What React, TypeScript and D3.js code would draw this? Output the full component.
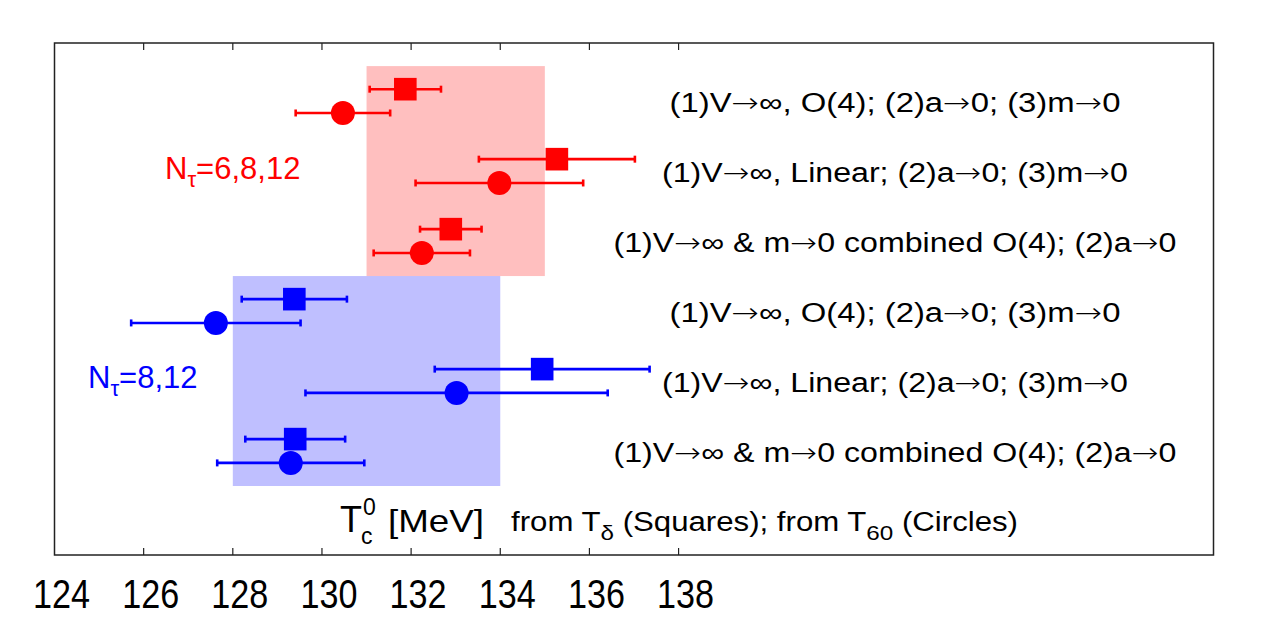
import * as d3 from 'd3';
import React, { useEffect, useRef } from 'react';

// T_c^0 estimates per extrapolation scheme, rows top to bottom
const rowLabels = [
  '(1)V→∞, O(4); (2)a→0; (3)m→0',
  '(1)V→∞, Linear; (2)a→0; (3)m→0',
  '(1)V→∞ & m→0 combined O(4); (2)a→0',
  '(1)V→∞, O(4); (2)a→0; (3)m→0',
  '(1)V→∞, Linear; (2)a→0; (3)m→0',
  '(1)V→∞ & m→0 combined O(4); (2)a→0',
];
const rowGroup = [0, 0, 0, 1, 1, 1];

// from T_delta (squares)
const squareValues = [131.87, 135.27, 132.89, 129.38, 134.94, 129.4];
const squareErrors = [0.8, 1.75, 0.69, 1.18, 2.41, 1.12];
// from T_60 (circles)
const circleValues = [130.47, 133.98, 132.24, 127.62, 133.02, 129.3];
const circleErrors = [1.06, 1.88, 1.08, 1.9, 3.39, 1.65];

const groupNames = ['6,8,12', '8,12'];
const groupColors = ['#ff0000', '#0000ff'];
const bandLow = [131, 128];
const bandHigh = [135, 134];
const bandRows = [
  [-0.5, 2.5],
  [2.5, 5.5],
];

const tickValues = [124, 126, 128, 130, 132, 134, 136, 138];

const width = 1275;
const height = 630;
const frame = { left: 54.5, right: 1213.5, top: 43, bottom: 555 };
const font = "'Liberation Sans', Arial, Helvetica, sans-serif";
// rendered widths of the row descriptions (the original font runs wide)
const labelWidth: Record<string, number> = {
  '(1)V→∞, O(4); (2)a→0; (3)m→0': 451,
  '(1)V→∞, Linear; (2)a→0; (3)m→0': 466,
  '(1)V→∞ & m→0 combined O(4); (2)a→0': 563,
};

const App: React.FC = () => {
  const ref = useRef<SVGSVGElement>(null);

  useEffect(() => {
    if (!ref.current) {
      return;
    }
    const svg = d3.select(ref.current);
    svg.selectAll('*').remove();

    const x = d3.scaleLinear().domain([124, 150]).range([frame.left, frame.right]);
    const y = d3.scaleLinear().domain([-0.83, 6.486]).range([frame.top, frame.bottom]);

    // shaded bands
    svg
      .append('g')
      .selectAll('rect')
      .data(groupNames.map((_, g) => g))
      .join('rect')
      .attr('x', (g) => x(bandLow[g]))
      .attr('width', (g) => x(bandHigh[g]) - x(bandLow[g]))
      .attr('y', (g) => y(bandRows[g][0]))
      .attr('height', (g) => y(bandRows[g][1]) - y(bandRows[g][0]))
      .style('fill', (g) => groupColors[g])
      .style('fill-opacity', 0.25);

    // frame + ticks
    svg
      .append('rect')
      .attr('x', frame.left)
      .attr('y', frame.top)
      .attr('width', frame.right - frame.left)
      .attr('height', frame.bottom - frame.top)
      .style('fill', 'none')
      .style('stroke', '#222')
      .style('stroke-width', 1.5);

    const ticks = svg.append('g');
    tickValues.slice(1).forEach((t) => {
      ticks
        .append('line')
        .attr('x1', x(t))
        .attr('x2', x(t))
        .attr('y1', frame.bottom)
        .attr('y2', frame.bottom - 7)
        .style('stroke', '#222')
        .style('stroke-width', 1.2);
      ticks
        .append('line')
        .attr('x1', x(t))
        .attr('x2', x(t))
        .attr('y1', frame.top)
        .attr('y2', frame.top + 7)
        .style('stroke', '#222')
        .style('stroke-width', 1.2);
    });
    svg
      .append('g')
      .selectAll('text')
      .data(tickValues)
      .join('text')
      .attr('x', (d) => x(d) + 7)
      .attr('y', 608)
      .attr('text-anchor', 'middle')
      .attr('textLength', 57)
      .attr('lengthAdjust', 'spacingAndGlyphs')
      .style('font-family', font)
      .style('font-size', '40px')
      .text((d) => d);

    // error bars with markers
    const drawSeries = (values: number[], errors: number[], offset: number, shape: 'square' | 'circle') => {
      const g = svg.append('g');
      values.forEach((v, i) => {
        const color = groupColors[rowGroup[i]];
        const cy = y(i + offset);
        const lo = x(v - errors[i]);
        const hi = x(v + errors[i]);
        g.append('line')
          .attr('x1', lo)
          .attr('x2', hi)
          .attr('y1', cy)
          .attr('y2', cy)
          .style('stroke', color)
          .style('stroke-width', 2.6);
        [lo, hi].forEach((cx) => {
          g.append('line')
            .attr('x1', cx)
            .attr('x2', cx)
            .attr('y1', cy - 3.5)
            .attr('y2', cy + 3.5)
            .style('stroke', color)
            .style('stroke-width', 2.6);
        });
        if (shape === 'square') {
          g.append('rect')
            .attr('x', x(v) - 11.3)
            .attr('y', cy - 11.3)
            .attr('width', 22.6)
            .attr('height', 22.6)
            .style('fill', color);
        } else {
          g.append('circle').attr('cx', x(v)).attr('cy', cy).attr('r', 12).style('fill', color);
        }
      });
    };
    drawSeries(squareValues, squareErrors, -0.17, 'square');
    drawSeries(circleValues, circleErrors, 0.17, 'circle');

    // row descriptions; arrows and infinity taken from DejaVu for the long symbol glyphs
    const rows = svg.append('g').style('font-family', font).style('font-size', '27px');
    rowLabels.forEach((label, i) => {
      const t = rows
        .append('text')
        .attr('x', 895)
        .attr('y', y(i) + 10.5)
        .attr('text-anchor', 'middle')
        .attr('textLength', labelWidth[label])
        .attr('lengthAdjust', 'spacingAndGlyphs');
      label
        .split(/([→∞])/)
        .filter((s) => s.length > 0)
        .forEach((part) => {
          const sp = t.append('tspan').text(part);
          if (part === '→' || part === '∞') {
            sp.style('font-family', "'DejaVu Sans', sans-serif").style('font-weight', 300);
          }
        });
    });

    // N_tau group labels
    const groupPos = [
      { x: 165, row: 1, dy: 8 },
      { x: 88, row: 4, dy: 7 },
    ];
    groupNames.forEach((name, gi) => {
      const t = svg
        .append('text')
        .attr('x', groupPos[gi].x)
        .attr('y', y(groupPos[gi].row) + groupPos[gi].dy)
        .style('font-family', font)
        .style('font-size', '31px')
        .style('fill', groupColors[gi]);
      t.append('tspan').text('N');
      t.append('tspan').attr('dy', 8).style('font-size', '22px').text('τ');
      t.append('tspan').attr('dy', -8).text('=' + name);
    });

    // x axis title
    const title = svg.append('g').style('font-family', font);
    title.append('text').attr('x', 340).attr('y', 532).style('font-size', '36px').text('T');
    title.append('text').attr('x', 361).attr('y', 544).style('font-size', '23px').text('c');
    title.append('text').attr('x', 363).attr('y', 515).style('font-size', '23px').text('0');
    title
      .append('text')
      .attr('x', 388)
      .attr('y', 532)
      .attr('textLength', 96)
      .attr('lengthAdjust', 'spacingAndGlyphs')
      .style('font-size', '32px')
      .text('[MeV]');
    const sub = title
      .append('text')
      .attr('x', 511)
      .attr('y', 531)
      .attr('textLength', 507)
      .attr('lengthAdjust', 'spacingAndGlyphs')
      .style('font-size', '27px');
    sub.append('tspan').text('from T');
    sub.append('tspan').attr('dy', 9).style('font-size', '21px').text('δ');
    sub.append('tspan').attr('dy', -9).text(' (Squares); from T');
    sub.append('tspan').attr('dy', 9).style('font-size', '21px').text('60');
    sub.append('tspan').attr('dy', -9).text(' (Circles)');
  }, []);

  return <svg ref={ref} width={width} height={height} viewBox={`0 0 ${width} ${height}`} style={{ display: 'block', position: 'absolute', left: 0, top: 0 }}></svg>;
};

export default App;
